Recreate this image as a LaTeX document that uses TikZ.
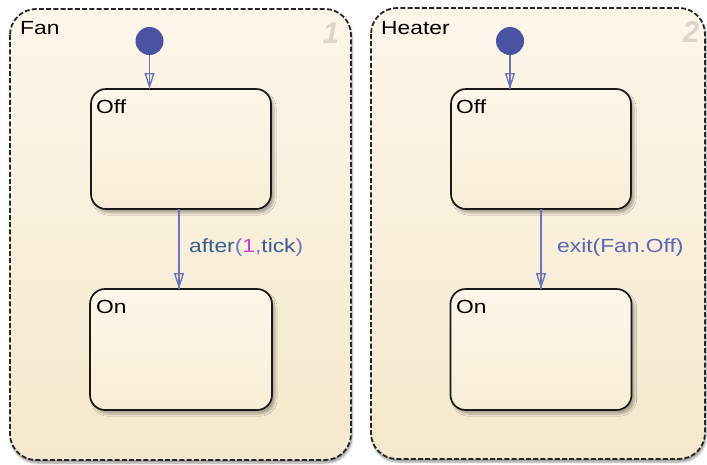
\documentclass[tikz,border=0pt]{standalone}
\usepackage{fontspec}
\usepackage{graphicx}
\setmainfont{Liberation Sans}
\usetikzlibrary{arrows.meta,shadows.blur}
\definecolor{chartA}{HTML}{FDF7EA}
\definecolor{chartB}{HTML}{F5E8CD}
\definecolor{stateA}{HTML}{FDF7EA}
\definecolor{stateB}{HTML}{F9EDD6}
\definecolor{trans}{HTML}{6A74BC}
\definecolor{dotc}{HTML}{4A52A2}
\definecolor{evt}{HTML}{3A5E90}
\definecolor{paren}{HTML}{6C7AC2}
\definecolor{numc}{HTML}{D43CC4}
\definecolor{exitc}{HTML}{5A66B6}
\definecolor{digit}{HTML}{DCD6CA}
\newcommand{\hst}[1]{\scalebox{1.2}[1]{#1}}
\tikzset{
  chartbox/.style={draw=black!85, line width=1.8pt, dash pattern=on 5pt off 2.2pt,
    rounded corners=26pt, top color=chartA, bottom color=chartB,
    blur shadow={shadow xshift=1pt, shadow yshift=-3pt, shadow blur steps=6, shadow opacity=40}},
  statebox/.style={draw=black!90, line width=1.7pt, rounded corners=15pt,
    top color=stateA, bottom color=stateB,
    blur shadow={shadow xshift=3pt, shadow yshift=-4pt, shadow blur steps=6, shadow opacity=30}},
  txt/.style={inner sep=0pt, anchor=base west, font=\fontsize{19}{22}\selectfont},
  digitlbl/.style={inner sep=0pt, font=\fontsize{30}{32}\selectfont\bfseries\itshape, text=digit},
  initdot/.style={circle, fill=dotc, minimum size=28pt, inner sep=0pt},
  transline/.style={draw=trans, line width=1.7pt},
  transarrow/.style={draw=trans, line width=1.5pt, -{Triangle[open, length=16pt, width=10pt, line width=1.4pt]}},
}
\begin{document}
\begin{tikzpicture}[x=1pt, y=-1pt]
\useasboundingbox (0,0) rectangle (707,464);
% charts
\path[chartbox] (10,9) rectangle (351,460);
\path[chartbox] (371,8) rectangle (705,459);
\node[txt] (fanT) at (20,34) {\hst{Fan}};
\node[txt] (heatT) at (381,34) {\hst{Heater}};
\node[digitlbl] (d1) at (331,33) {1};
\node[digitlbl] (d2) at (691,32) {2};
% states
\node[statebox, draw, minimum width=180pt, minimum height=120pt, inner sep=0pt] (fanOff) at (181,149) {};
\node[statebox, draw, minimum width=182pt, minimum height=121pt, inner sep=0pt] (fanOn) at (181,349.5) {};
\node[statebox, draw, minimum width=180pt, minimum height=120pt, inner sep=0pt] (heatOff) at (541,149) {};
\node[statebox, draw, minimum width=181pt, minimum height=121pt, inner sep=0pt] (heatOn) at (541,349.5) {};
\node[txt] (fanOffL) at (96,113) {\hst{Off}};
\node[txt] (fanOnL) at (96,313) {\hst{On}};
\node[txt] (heatOffL) at (456,113) {\hst{Off}};
\node[txt] (heatOnL) at (456,313) {\hst{On}};
% initial dots
\node[initdot] (fanInit) at (149.5,41) {};
\node[initdot] (heatInit) at (510,41) {};
\coordinate (fanOffTop) at (149.5,89);
\coordinate (heatOffTop) at (510,89);
\draw[transline] (fanInit.south) -- (fanOffTop);
\draw[transarrow] (fanInit.south) -- (fanOffTop);
\draw[transline] (heatInit.south) -- (heatOffTop);
\draw[transarrow] (heatInit.south) -- (heatOffTop);
% transitions
\coordinate (f1) at (179,209);
\coordinate (f2) at (179,289);
\coordinate (h1) at (541,209);
\coordinate (h2) at (541,289);
\draw[transline] (f1) -- (f2);
\draw[transarrow] (f1) -- (f2);
\draw[transline] (h1) -- (h2);
\draw[transarrow] (h1) -- (h2);
\node[txt] (lblF) at (189,252) {\hst{\textcolor{evt}{after}\textcolor{paren}{(}\textcolor{numc}{1}\textcolor{paren}{,}\textcolor{evt}{tick}\textcolor{paren}{)}}};
\node[txt, text=exitc] (lblH) at (557,252) {\hst{exit(Fan.Off)}};
\end{tikzpicture}
\end{document}
